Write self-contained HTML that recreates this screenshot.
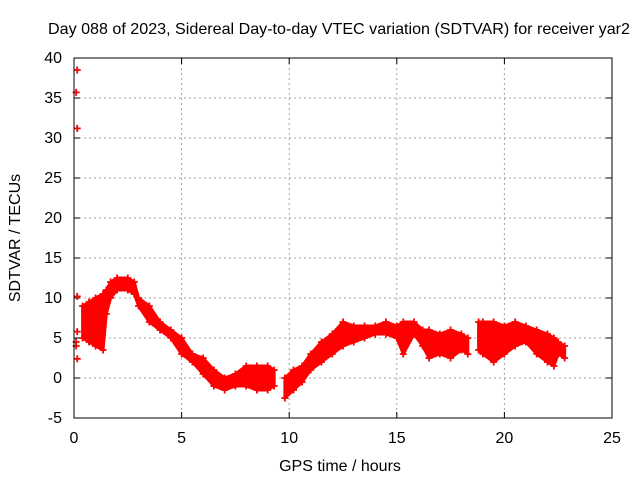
<!DOCTYPE html>
<html><head><meta charset="utf-8"><style>
body{margin:0;background:#fff;}
svg text{font-family:"Liberation Sans",sans-serif;font-size:16px;fill:#000;}
</style></head><body>
<svg id="chart" width="640" height="480" viewBox="0 0 640 480" xmlns="http://www.w3.org/2000/svg">
<text x="339" y="34" text-anchor="middle" textLength="582" lengthAdjust="spacingAndGlyphs">Day 088 of 2023, Sidereal Day-to-day VTEC variation (SDTVAR) for receiver yar2</text>
<text x="340" y="471" text-anchor="middle">GPS time / hours</text>
<text x="20" y="238" text-anchor="middle" transform="rotate(-90 20 238)">SDTVAR / TECUs</text>
<g id="grid"></g><g id="ticks"></g><g id="marks"></g>
<rect x="74" y="58" width="538" height="360" fill="none" stroke="#000" stroke-width="1"/>
</svg>
<script>
const xTicks=[0,5,10,15,20,25];
const yTicks=[-5,0,5,10,15,20,25,30,35,40];
const bandTime=[0.4,0.7,1.0,1.35,1.5,1.7,2.0,2.5,2.8,3.0,3.5,4.0,4.5,5.0,5.5,6.0,6.5,7.0,7.5,8.0,8.5,9.0,9.3,
 9.8,10.2,10.6,11.0,11.5,12.0,12.5,13.0,13.5,14.0,14.5,15.0,15.3,15.8,16.2,16.5,17.0,17.5,18.0,18.3,
 18.8,19.0,19.5,20.0,20.5,21.0,21.5,22.0,22.3,22.5,22.8];
const bandLow=[5,4.5,4,3.5,8,10,11,11,10.5,9,7,6,5,3,2,0.5,-1,-1.5,-1,-1,-1.5,-1.5,-1,
 -2.5,-1.5,-0.5,1,2,3,4,4.5,5,5.5,5.5,5,3,5.5,4,2.5,3,2.5,3.5,3,
 3.5,3,2,3,4,4.5,3,2,1.5,3,2.5];
const bandHigh=[9,9.5,10,10.5,11,12,12.5,12.5,12,10,9,7,6,5,3,2.5,1,0,0.5,1.5,1.5,1.5,1,
 0,1,1.5,3,4.5,5.5,7,6.5,6.5,6.5,7,6.5,7,7,6,6,5.5,6,5.5,5,
 7,7,7,6.5,7,6.5,6,5.5,5,4.5,4];
const bandGroup=[0,0,0,0,0,0,0,0,0,0,0,0,0,0,0,0,0,0,0,0,0,0,0,
 1,1,1,1,1,1,1,1,1,1,1,1,1,1,1,1,1,1,1,1,
 2,2,2,2,2,2,2,2,2,2,2];
const isoTime=[0.1,0.1,0.15,0.15,0.15,0.15,0.1,0.15];
const isoValue=[4.5,4,2.4,5.8,10.2,31.2,35.7,38.5];

const X0=74,X1=612,Y0=418,Y1=58;
const xs=t=>X0+(t-0)/(25-0)*(X1-X0);
const ys=v=>Y0-(v-(-5))/(40-(-5))*(Y0-Y1);
const NS="http://www.w3.org/2000/svg";
const mk=(tag,at,parent)=>{const e=document.createElementNS(NS,tag);for(const k in at)e.setAttribute(k,at[k]);parent.appendChild(e);return e;};
const grid=document.getElementById('grid'),ticks=document.getElementById('ticks'),marks=document.getElementById('marks');
xTicks.forEach(t=>{
 if(t>0&&t<25){const l=mk('line',{x1:xs(t),x2:xs(t),y1:Y1,y2:Y0,stroke:'#a0a0a0','stroke-dasharray':'2,3'},grid);
 
 }
 const tl=mk('text',{x:xs(t),y:443,'text-anchor':'middle'},ticks);tl.textContent=t;
 
 
 mk('line',{x1:xs(t),x2:xs(t),y1:Y0,y2:Y0-6,stroke:'#000'},ticks);
 mk('line',{x1:xs(t),x2:xs(t),y1:Y1,y2:Y1+6,stroke:'#000'},ticks);
});
yTicks.forEach(v=>{
 if(v>-5&&v<40){const l=mk('line',{x1:X0,x2:X1,y1:ys(v),y2:ys(v),stroke:'#a0a0a0','stroke-dasharray':'2,3'},grid);
 
 }
 const tl=mk('text',{x:62,y:ys(v)+5,'text-anchor':'end'},ticks);tl.textContent=v;
 
 
 mk('line',{x1:X0,x2:X0+6,y1:ys(v),y2:ys(v),stroke:'#000'},ticks);
 mk('line',{x1:X1,x2:X1-6,y1:ys(v),y2:ys(v),stroke:'#000'},ticks);
});
function cross(t,v){const g=mk('path',{d:`M${xs(t)-3.5},${ys(v)}h7M${xs(t)},${ys(v)-3.5}v7`,stroke:'#f00','stroke-width':1.8},marks);
 
 }
[0,1,2].forEach(gi=>{
 const idx=bandTime.map((_,i)=>i).filter(i=>bandGroup[i]===gi);
 const pts=idx.map(i=>xs(bandTime[i])+','+ys(bandHigh[i])).concat(idx.slice().reverse().map(i=>xs(bandTime[i])+','+ys(bandLow[i])));
 const p=mk('polygon',{points:pts.join(' '),fill:'#f00',stroke:'#f00','stroke-width':3,'stroke-linejoin':'round'},marks);
 
 
 idx.forEach(i=>{cross(bandTime[i],bandLow[i]);cross(bandTime[i],bandHigh[i]);});
});
isoTime.forEach((t,i)=>cross(t,isoValue[i]));
</script>
</body></html>
